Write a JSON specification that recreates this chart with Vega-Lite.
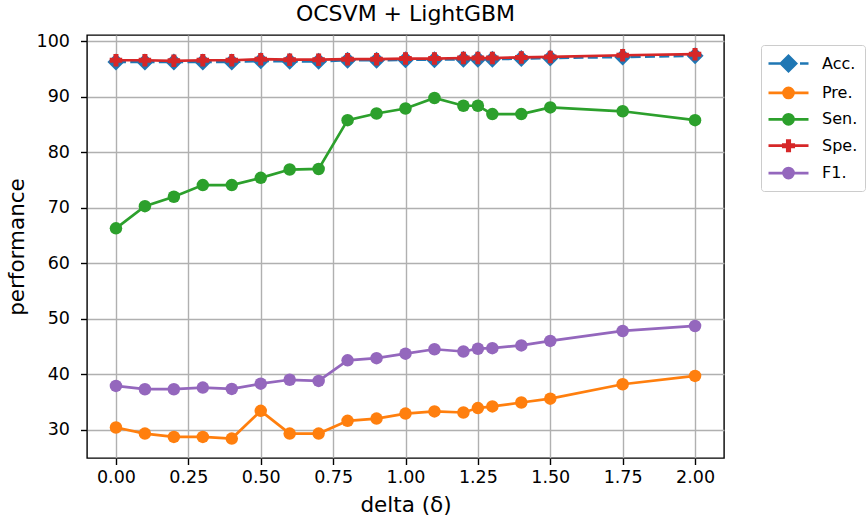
{
  "$schema": "https://vega.github.io/schema/vega-lite/v6.json",
  "autosize": {"type": "none"},
  "padding": {"left": 87, "top": 35, "right": 142, "bottom": 62},
  "width": 637,
  "height": 423,
  "background": "white",
  "title": {"text": "OCSVM + LightGBM", "fontSize": 22, "font": "DejaVu Sans", "fontWeight": "normal", "color": "black", "offset": 6},
  "config": {
    "font": "DejaVu Sans",
    "view": {"stroke": "black", "strokeWidth": 1.4},
    "axis": {
      "domain": false,
      "grid": true,
      "gridColor": "#b0b0b0",
      "gridWidth": 1.4,
      "tickColor": "black",
      "tickWidth": 1.4,
      "tickSize": 6.5,
      "labelColor": "black",
      "labelFont": "DejaVu Sans",
      "labelFontSize": 17.5,
      "titleFont": "DejaVu Sans",
      "titleFontSize": 21.5,
      "titleFontWeight": "normal",
      "titleColor": "black"
    }
  },
  "data": {"values": [
    {"delta": 0, "metric": "Acc.", "value": 96.3},
    {"delta": 0.1, "metric": "Acc.", "value": 96.3},
    {"delta": 0.2, "metric": "Acc.", "value": 96.3},
    {"delta": 0.3, "metric": "Acc.", "value": 96.3},
    {"delta": 0.4, "metric": "Acc.", "value": 96.3},
    {"delta": 0.5, "metric": "Acc.", "value": 96.5},
    {"delta": 0.6, "metric": "Acc.", "value": 96.4},
    {"delta": 0.7, "metric": "Acc.", "value": 96.4},
    {"delta": 0.8, "metric": "Acc.", "value": 96.6},
    {"delta": 0.9, "metric": "Acc.", "value": 96.6},
    {"delta": 1.0, "metric": "Acc.", "value": 96.7},
    {"delta": 1.1, "metric": "Acc.", "value": 96.7},
    {"delta": 1.2, "metric": "Acc.", "value": 96.8},
    {"delta": 1.25, "metric": "Acc.", "value": 96.8},
    {"delta": 1.3, "metric": "Acc.", "value": 96.8},
    {"delta": 1.4, "metric": "Acc.", "value": 96.9},
    {"delta": 1.5, "metric": "Acc.", "value": 97.0},
    {"delta": 1.75, "metric": "Acc.", "value": 97.2},
    {"delta": 2.0, "metric": "Acc.", "value": 97.4},
    {"delta": 0, "metric": "Pre.", "value": 30.4},
    {"delta": 0.1, "metric": "Pre.", "value": 29.3},
    {"delta": 0.2, "metric": "Pre.", "value": 28.7},
    {"delta": 0.3, "metric": "Pre.", "value": 28.7},
    {"delta": 0.4, "metric": "Pre.", "value": 28.4},
    {"delta": 0.5, "metric": "Pre.", "value": 33.4},
    {"delta": 0.6, "metric": "Pre.", "value": 29.3},
    {"delta": 0.7, "metric": "Pre.", "value": 29.3},
    {"delta": 0.8, "metric": "Pre.", "value": 31.6},
    {"delta": 0.9, "metric": "Pre.", "value": 32.0},
    {"delta": 1.0, "metric": "Pre.", "value": 32.9},
    {"delta": 1.1, "metric": "Pre.", "value": 33.3},
    {"delta": 1.2, "metric": "Pre.", "value": 33.1},
    {"delta": 1.25, "metric": "Pre.", "value": 33.9},
    {"delta": 1.3, "metric": "Pre.", "value": 34.2},
    {"delta": 1.4, "metric": "Pre.", "value": 34.9},
    {"delta": 1.5, "metric": "Pre.", "value": 35.6},
    {"delta": 1.75, "metric": "Pre.", "value": 38.2},
    {"delta": 2.0, "metric": "Pre.", "value": 39.7},
    {"delta": 0, "metric": "Sen.", "value": 66.3},
    {"delta": 0.1, "metric": "Sen.", "value": 70.3},
    {"delta": 0.2, "metric": "Sen.", "value": 72.0},
    {"delta": 0.3, "metric": "Sen.", "value": 74.1},
    {"delta": 0.4, "metric": "Sen.", "value": 74.1},
    {"delta": 0.5, "metric": "Sen.", "value": 75.4},
    {"delta": 0.6, "metric": "Sen.", "value": 76.9},
    {"delta": 0.7, "metric": "Sen.", "value": 77.0},
    {"delta": 0.8, "metric": "Sen.", "value": 85.8},
    {"delta": 0.9, "metric": "Sen.", "value": 87.0},
    {"delta": 1.0, "metric": "Sen.", "value": 87.9},
    {"delta": 1.1, "metric": "Sen.", "value": 89.8},
    {"delta": 1.2, "metric": "Sen.", "value": 88.4},
    {"delta": 1.25, "metric": "Sen.", "value": 88.4},
    {"delta": 1.3, "metric": "Sen.", "value": 86.9},
    {"delta": 1.4, "metric": "Sen.", "value": 86.9},
    {"delta": 1.5, "metric": "Sen.", "value": 88.1},
    {"delta": 1.75, "metric": "Sen.", "value": 87.4},
    {"delta": 2.0, "metric": "Sen.", "value": 85.8},
    {"delta": 0, "metric": "Spe.", "value": 96.6},
    {"delta": 0.1, "metric": "Spe.", "value": 96.6},
    {"delta": 0.2, "metric": "Spe.", "value": 96.5},
    {"delta": 0.3, "metric": "Spe.", "value": 96.6},
    {"delta": 0.4, "metric": "Spe.", "value": 96.6},
    {"delta": 0.5, "metric": "Spe.", "value": 96.8},
    {"delta": 0.6, "metric": "Spe.", "value": 96.7},
    {"delta": 0.7, "metric": "Spe.", "value": 96.7},
    {"delta": 0.8, "metric": "Spe.", "value": 96.8},
    {"delta": 0.9, "metric": "Spe.", "value": 96.8},
    {"delta": 1.0, "metric": "Spe.", "value": 96.9},
    {"delta": 1.1, "metric": "Spe.", "value": 96.9},
    {"delta": 1.2, "metric": "Spe.", "value": 97.0},
    {"delta": 1.25, "metric": "Spe.", "value": 97.0},
    {"delta": 1.3, "metric": "Spe.", "value": 97.0},
    {"delta": 1.4, "metric": "Spe.", "value": 97.1},
    {"delta": 1.5, "metric": "Spe.", "value": 97.2},
    {"delta": 1.75, "metric": "Spe.", "value": 97.5},
    {"delta": 2.0, "metric": "Spe.", "value": 97.7},
    {"delta": 0, "metric": "F1.", "value": 37.9},
    {"delta": 0.1, "metric": "F1.", "value": 37.3},
    {"delta": 0.2, "metric": "F1.", "value": 37.3},
    {"delta": 0.3, "metric": "F1.", "value": 37.6},
    {"delta": 0.4, "metric": "F1.", "value": 37.35},
    {"delta": 0.5, "metric": "F1.", "value": 38.3},
    {"delta": 0.6, "metric": "F1.", "value": 39.0},
    {"delta": 0.7, "metric": "F1.", "value": 38.8},
    {"delta": 0.8, "metric": "F1.", "value": 42.5},
    {"delta": 0.9, "metric": "F1.", "value": 42.9},
    {"delta": 1.0, "metric": "F1.", "value": 43.7},
    {"delta": 1.1, "metric": "F1.", "value": 44.5},
    {"delta": 1.2, "metric": "F1.", "value": 44.1},
    {"delta": 1.25, "metric": "F1.", "value": 44.6},
    {"delta": 1.3, "metric": "F1.", "value": 44.7},
    {"delta": 1.4, "metric": "F1.", "value": 45.2},
    {"delta": 1.5, "metric": "F1.", "value": 46.0},
    {"delta": 1.75, "metric": "F1.", "value": 47.8},
    {"delta": 2.0, "metric": "F1.", "value": 48.7}
  ]},
  "encoding": {
    "x": {
      "field": "delta", "type": "quantitative",
      "scale": {"domain": [-0.1, 2.1], "nice": false, "zero": false},
      "axis": {"title": "delta (δ)", "values": [0, 0.25, 0.5, 0.75, 1.0, 1.25, 1.5, 1.75, 2.0], "format": ".2f", "labelPadding": 4, "titlePadding": 8}
    },
    "y": {
      "field": "value", "type": "quantitative",
      "scale": {"domain": [24.9, 101.15], "nice": false, "zero": false},
      "axis": {"title": "performance", "values": [30, 40, 50, 60, 70, 80, 90, 100], "labelPadding": 11, "titlePadding": 8}
    },
    "color": {
      "field": "metric", "type": "nominal",
      "scale": {"domain": ["Acc.", "Pre.", "Sen.", "Spe.", "F1."], "range": ["#1f77b4", "#ff7f0e", "#2ca02c", "#d62728", "#9467bd"]},
      "legend": {
        "title": null,
        "orient": "none",
        "legendX": 674,
        "legendY": 10,
        "direction": "vertical",
        "padding": 7,
        "symbolOffset": 9,
        "symbolSize": 400,
        "labelOffset": 22,
        "rowPadding": 4.4,
        "labelFontSize": 16,
        "labelFont": "DejaVu Sans",
        "labelColor": "black",
        "strokeColor": "#cccccc",
        "fillColor": "rgba(255,255,255,0.8)",
        "cornerRadius": 3,
        "encode": {
          "symbols": {
            "update": {
              "shape": {"signal": "datum.value === 'Acc.' ? 'M-2,0H-0.6M1.15,0H2M-0.76,0L0,-0.76L0.76,0L0,0.76Z' : datum.value === 'Spe.' ? 'M-2,0H2M-0.12,-0.52H0.12V-0.12H0.52V0.12H0.12V0.52H-0.12V0.12H-0.52V-0.12H-0.12Z' : 'M-2,0H2M-0.5,0A0.5,0.5,0,1,0,0.5,0A0.5,0.5,0,1,0,-0.5,0Z'"},
              "fill": {"signal": "scale('color', datum.value)"},
              "stroke": {"signal": "scale('color', datum.value)"},
              "strokeWidth": {"value": 2.7},
              "size": {"value": 400},
              "opacity": {"value": 1},
              "fillOpacity": {"value": 1},
              "strokeOpacity": {"value": 1}
            }
          }
        }
      }
    }
  },
  "layer": [
    {
      "transform": [{"filter": "datum.metric === 'Acc.'"}],
      "mark": {"type": "line", "strokeWidth": 2.7, "strokeDash": [10, 4.3]},
      "encoding": {}
    },
    {
      "transform": [{"filter": "datum.metric === 'Acc.'"}],
      "mark": {"type": "point", "filled": true, "opacity": 1, "shape": "diamond", "size": 289}
    },
    {
      "transform": [{"filter": "datum.metric !== 'Acc.'"}],
      "mark": {"type": "line", "strokeWidth": 2.7},
      "encoding": {}
    },
    {
      "transform": [{"filter": "datum.metric !== 'Acc.'"}],
      "mark": {"type": "point", "filled": true, "opacity": 1},
      "encoding": {
        "shape": {"field": "metric", "type": "nominal", "legend": null,
          "scale": {"domain": ["Pre.", "Sen.", "Spe.", "F1."], "range": ["circle", "circle", "cross", "circle"]}},
        "size": {"field": "metric", "type": "nominal", "legend": null,
          "scale": {"domain": ["Pre.", "Sen.", "Spe.", "F1."], "range": [156, 156, 190, 156]}}
      }
    }
  ]
}
